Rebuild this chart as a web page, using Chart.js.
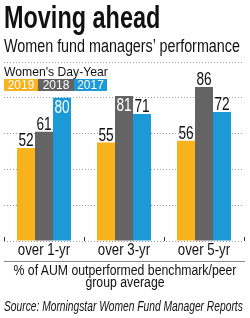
<!DOCTYPE html>
<html>
<head>
<meta charset="utf-8">
<script src="https://cdn.jsdelivr.net/npm/chart.js@4/dist/chart.umd.min.js"></script>
<style>
  body { margin: 0; background: #fff; }
  #wrap { position: relative; width: 250px; height: 318px; overflow: hidden;
    font-family: "Liberation Sans", Arial, sans-serif; color: #111; }
  #chart { position: absolute; left: 0; top: 0; }
  .txt { position: absolute; white-space: nowrap; transform-origin: 0 0; }
  #title { left: 4px; top: 1px; font-size: 32px; line-height: 32px; font-weight: bold; }
  #subtitle { left: 4px; top: 38px; font-size: 17.5px; line-height: 17.5px; }
  #legendTitle { left: 4px; top: 65px; font-size: 13px; line-height: 13px; }
  #legendBoxes { position: absolute; left: 4px; top: 79px; display: flex; }
  #legendBoxes span { display: block; height: 12px; line-height: 12px; color: #fff;
    font-size: 12px; text-align: center; }
  #rule { position: absolute; left: 4px; top: 261px; width: 241px; height: 0; border-top: 1px solid #888; }
  #note { left: -30px; width: 310px; top: 264px; font-size: 14px; line-height: 12px; text-align: center;
    white-space: nowrap; transform: scaleX(0.876); transform-origin: 155px 0; }
  #source { left: 4px; top: 299px; font-size: 14.5px; line-height: 14.5px; font-style: italic; }
</style>
</head>
<body>
<div id="wrap">
  <canvas id="chart" width="250" height="318"></canvas>
  <div class="txt fit" id="title" data-w="156">Moving ahead</div>
  <div class="txt fit" id="subtitle" data-w="236">Women fund managers’ performance</div>
  <div class="txt fit" id="legendTitle" data-w="104">Women's Day-Year</div>
  <div id="legendBoxes"></div>
  <div id="rule"></div>
  <div class="txt" id="note">% of AUM outperformed benchmark/peer<br>group average</div>
  <div class="txt fit" id="source" data-w="239">Source: Morningstar Women Fund Manager Reports</div>
</div>
<script>
// Chart data
const categories = ["over 1-yr", "over 3-yr", "over 5-yr"];
const years = ["2019", "2018", "2017"];
const values2019 = [52, 55, 56];
const values2018 = [61, 81, 86];
const values2017 = [80, 71, 72];
const yTicks = [0, 20, 40, 60, 80, 100];

const colors = ["#F7B21D", "#646464", "#1B9AD7"];
const legendWidths = [34, 36, 33];
// labels drawn inside the bar top (white) instead of above it
const labelInside = [
  [false, false, false],
  [false, true, false],
  [true, false, false],
];

const fontFamily = '"Liberation Sans", Arial, sans-serif';

// squeeze text horizontally to look like a condensed face
document.querySelectorAll(".fit").forEach((el) => {
  const s = Number(el.dataset.w) / el.offsetWidth;
  el.style.transform = `scaleX(${s})`;
});

// legend boxes
const legendBoxes = document.getElementById("legendBoxes");
years.forEach((year, i) => {
  const box = document.createElement("span");
  box.textContent = year;
  box.style.background = colors[i];
  box.style.width = legendWidths[i] + "px";
  legendBoxes.appendChild(box);
});

function narrowText(ctx, text, x, y, sx) {
  ctx.save();
  ctx.translate(x, y);
  ctx.scale(sx, 1);
  ctx.fillText(text, 0, 0);
  ctx.restore();
}

const valueLabels = {
  id: "valueLabels",
  afterDatasetsDraw(chart) {
    const ctx = chart.ctx;
    ctx.save();
    ctx.font = "18px " + fontFamily;
    ctx.textAlign = "center";
    ctx.textBaseline = "alphabetic";
    chart.data.datasets.forEach((ds, di) => {
      chart.getDatasetMeta(di).data.forEach((bar, i) => {
        const text = String(ds.data[i]);
        if (labelInside[di][i]) {
          ctx.fillStyle = "#fff";
          narrowText(ctx, text, bar.x, bar.y + 15, 0.76);
        } else {
          ctx.fillStyle = "#111";
          narrowText(ctx, text, bar.x, bar.y - 2, 0.76);
        }
      });
    });
    ctx.restore();
  },
};

// category labels and small tick marks rising from the baseline
const categoryAxis = {
  id: "categoryAxis",
  afterDraw(chart) {
    const ctx = chart.ctx;
    const x = chart.scales.x;
    const y0 = chart.scales.y.getPixelForValue(0);
    ctx.save();
    ctx.strokeStyle = "#333";
    ctx.lineWidth = 1;
    for (let i = 0; i <= categories.length; i++) {
      const px = Math.round(x.getPixelForValue(i - 0.5)) + 0.5;
      ctx.beginPath();
      ctx.moveTo(px, y0);
      ctx.lineTo(px, y0 - 4);
      ctx.stroke();
    }
    ctx.fillStyle = "#111";
    ctx.font = "17px " + fontFamily;
    ctx.textAlign = "center";
    ctx.textBaseline = "alphabetic";
    categories.forEach((c, i) => {
      narrowText(ctx, c, x.getPixelForValue(i), y0 + 14, 0.78);
    });
    ctx.restore();
  },
};

const ctx = document.getElementById("chart").getContext("2d");
new Chart(ctx, {
  type: "bar",
  data: {
    labels: categories,
    datasets: [
      { label: years[0], data: values2019, backgroundColor: colors[0] },
      { label: years[1], data: values2018, backgroundColor: colors[1] },
      { label: years[2], data: values2017, backgroundColor: colors[2] },
    ],
  },
  options: {
    responsive: false,
    animation: false,
    layout: { padding: { left: 4, right: 6, top: 62, bottom: 69 } },
    datasets: {
      bar: { categoryPercentage: 0.675, barPercentage: 1, borderWidth: 0 },
    },
    plugins: {
      legend: { display: false },
      tooltip: { enabled: false },
    },
    scales: {
      x: {
        grid: { display: false },
        border: { display: false },
        ticks: { display: false },
      },
      y: {
        min: 0,
        max: 100,
        afterBuildTicks: (scale) => {
          scale.ticks = yTicks.map((v) => ({ value: v }));
        },
        ticks: { display: false },
        border: { display: false, dash: [1, 2] },
        grid: { color: "#9a9a9a", lineWidth: 1, drawTicks: false },
      },
    },
  },
  plugins: [valueLabels, categoryAxis],
});
</script>
</body>
</html>
